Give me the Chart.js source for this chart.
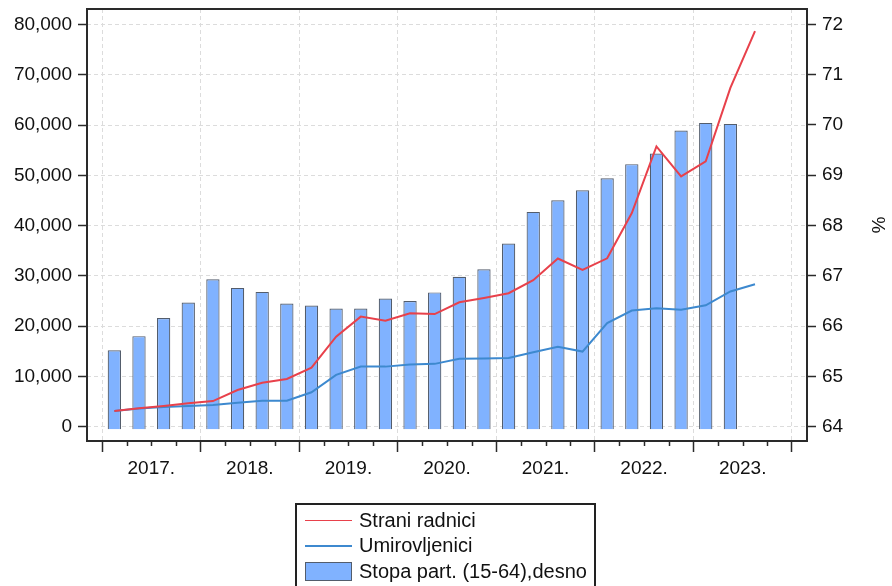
<!DOCTYPE html>
<html>
<head>
<meta charset="utf-8">
<script src="https://cdn.jsdelivr.net/npm/chart.js@4.4.0/dist/chart.umd.min.js"></script>
<style>
  html, body { margin: 0; padding: 0; background: #fff; }
  #wrap { position: relative; width: 892px; height: 586px; overflow: hidden; }
  #legend {
    position: absolute; left: 295px; top: 503px; width: 301px; height: 100px;
    border: 2px solid #222; box-sizing: border-box;
    font-family: "Liberation Sans", Arial, sans-serif; font-size: 20px; color: #111;
  }
  .item { position: absolute; left: 0; height: 25px; width: 100%; }
  .swatch { position: absolute; left: 8px; width: 47px; }
  .txt { position: absolute; left: 62px; top: 0; line-height: 25px; white-space: nowrap; }
</style>
</head>
<body>
<div id="wrap">
  <canvas id="chart" width="892" height="586"></canvas>
  <div id="legend"></div>
</div>
<script>
// quarters 2017Q1 .. 2023Q3
var yearLabels = ['2017.', '2018.', '2019.', '2020.', '2021.', '2022.', '2023.'];
var leftTicks = [0, 10000, 20000, 30000, 40000, 50000, 60000, 70000, 80000];
var rightTicks = [64, 65, 66, 67, 68, 69, 70, 71, 72];

var straniRadnici = [3100, 3650, 4100, 4650, 5100, 7300, 8750, 9500, 11750, 17900, 21900, 21100,
  22550, 22400, 24750, 25600, 26550, 29150, 33450, 31200, 33500, 42500, 55750, 49800, 52800, 67400, 78700];
var umirovljenici = [3100, 3600, 3900, 4100, 4300, 4750, 5150, 5150, 6850, 10300, 11950, 11950,
  12350, 12500, 13500, 13550, 13650, 14800, 15900, 14950, 20600, 23100, 23550, 23250, 24150, 26900, 28350];
var stopaPart = [65.52, 65.80, 66.16, 66.47, 66.93, 66.76, 66.68, 66.45, 66.41, 66.35, 66.35, 66.55,
  66.50, 66.67, 66.98, 67.13, 67.64, 68.27, 68.50, 68.70, 68.94, 69.22, 69.43, 69.89, 70.04, 70.02];

var FONT = { family: '"Liberation Sans", Arial, sans-serif', size: 19 };
var GRID = '#dcdcdc';
var DARK = '#2a2a2a';

function toPoints(values) {
  // quarter i sits in the middle of its slot
  return values.map(function (v, i) { return { x: i + 0.5, y: v }; });
}

function fixedTicks(list) {
  return function (scale) {
    scale.ticks = list.map(function (v) { return { value: v }; });
  };
}

function fixedWidth(w) {
  return function (scale) {
    scale.width = w;
    // no extra room for half labels, the frame is placed by hand
    scale.paddingTop = 0;
    scale.paddingBottom = 0;
  };
}

function thousands(v) {
  return String(v).replace(/\B(?=(\d{3})+(?!\d))/g, ',');
}

var quarterEdges = [];
for (var q = 0; q <= yearLabels.length * 4; ++q) {
  quarterEdges.push(q);
}

var framePlugin = {
  id: 'frame',
  afterDraw: function (chart) {
    var a = chart.chartArea;
    var ctx = chart.ctx;
    var xs = chart.scales.x;
    ctx.save();
    // short quarter ticks
    ctx.strokeStyle = DARK;
    ctx.lineWidth = 1.5;
    for (var i = 0; i < quarterEdges.length; ++i) {
      if (quarterEdges[i] % 4 === 0) {
        continue;
      }
      var px = Math.round(xs.getPixelForValue(quarterEdges[i])) + 0.5;
      ctx.beginPath();
      ctx.moveTo(px, a.bottom);
      ctx.lineTo(px, a.bottom + 5);
      ctx.stroke();
    }
    ctx.lineWidth = 2;
    ctx.strokeRect(a.left, a.top, a.right - a.left, a.bottom - a.top);
    ctx.restore();
  }
};

var ctx = document.getElementById('chart').getContext('2d');
var chart = new Chart(ctx, {
  type: 'line',
  data: {
    datasets: [
      {
        type: 'line',
        label: 'Strani radnici',
        data: toPoints(straniRadnici),
        yAxisID: 'yL',
        borderColor: '#e8414b',
        borderWidth: 2,
        pointRadius: 0,
        tension: 0,
        order: 1,
      },
      {
        type: 'line',
        label: 'Umirovljenici',
        data: toPoints(umirovljenici),
        yAxisID: 'yL',
        borderColor: '#3d89cf',
        borderWidth: 2,
        pointRadius: 0,
        tension: 0,
        order: 1,
      },
      {
        type: 'bar',
        label: 'Stopa part. (15-64),desno',
        data: toPoints(stopaPart),
        yAxisID: 'yR',
        backgroundColor: '#80b2ff',
        borderColor: '#535d6c',
        borderWidth: 1.2,
        barPercentage: 0.54,
        categoryPercentage: 1,
        base: 63.95,
        order: 2,
      },
    ],
  },
  options: {
    responsive: false,
    animation: false,
    layout: { padding: { top: 9, left: 0, right: 0, bottom: 105 } },
    plugins: {
      legend: { display: false },
      tooltip: { enabled: false },
    },
    scales: {
      x: {
        type: 'linear',
        min: -0.61,
        max: 28.61,
        offset: false,
        afterBuildTicks: fixedTicks(quarterEdges),
        afterFit: function (scale) {
          scale.height = 40;
          scale.paddingLeft = 0;
          scale.paddingRight = 0;
        },
        ticks: {
          autoSkip: false,
          maxRotation: 0,
          padding: 5,
          color: '#111',
          font: FONT,
          callback: function (v) {
            return v % 4 === 2 ? yearLabels[(v - 2) / 4] : '';
          },
        },
        grid: {
          offset: false,
          color: function (c) { return c.tick && c.tick.value % 4 === 0 ? GRID : 'rgba(0,0,0,0)'; },
          tickColor: function (c) { return c.tick && c.tick.value % 4 === 0 ? DARK : 'rgba(0,0,0,0)'; },
          tickLength: 11,
          tickWidth: 1.5,
          lineWidth: 1,
        },
        border: { display: false, dash: [4, 3] },
      },
      yL: {
        type: 'linear',
        position: 'left',
        min: -2845,
        max: 83090,
        afterBuildTicks: fixedTicks(leftTicks),
        afterFit: fixedWidth(87),
        ticks: {
          padding: 6,
          color: '#111',
          font: FONT,
          callback: function (v) { return thousands(v); },
        },
        grid: {
          color: GRID,
          tickColor: DARK,
          tickLength: 9,
          tickWidth: 1.5,
          lineWidth: 1,
        },
        border: { display: false, dash: [4, 3] },
      },
      yR: {
        type: 'linear',
        position: 'right',
        min: 63.716,
        max: 72.304,
        afterBuildTicks: fixedTicks(rightTicks),
        afterFit: fixedWidth(85),
        ticks: {
          padding: 6,
          color: '#111',
          font: FONT,
        },
        grid: {
          drawOnChartArea: false,
          tickColor: DARK,
          tickLength: 9,
          tickWidth: 1.5,
        },
        border: { display: false },
        title: {
          display: true,
          text: '%',
          color: '#111',
          font: FONT,
          padding: { top: 3, bottom: 0 },
        },
      },
    },
  },
  plugins: [framePlugin],
});

// legend box under the chart
function buildLegend() {
  var box = document.getElementById('legend');
  var sets = chart.data.datasets;
  for (var i = 0; i < sets.length; ++i) {
    var ds = sets[i];
    var item = document.createElement('div');
    item.className = 'item';
    item.style.top = (2.5 + i * 25.5) + 'px';
    var sw = document.createElement('div');
    sw.className = 'swatch';
    if (ds.type === 'bar') {
      sw.style.top = '3px';
      sw.style.height = '19px';
      sw.style.boxSizing = 'border-box';
      sw.style.background = ds.backgroundColor;
      sw.style.border = '1.5px solid ' + ds.borderColor;
    } else {
      sw.style.top = '12px';
      sw.style.height = '1.6px';
      sw.style.background = ds.borderColor;
    }
    var txt = document.createElement('div');
    txt.className = 'txt';
    txt.textContent = ds.label;
    item.appendChild(sw);
    item.appendChild(txt);
    box.appendChild(item);
  }
}
buildLegend();
</script>
</body>
</html>
